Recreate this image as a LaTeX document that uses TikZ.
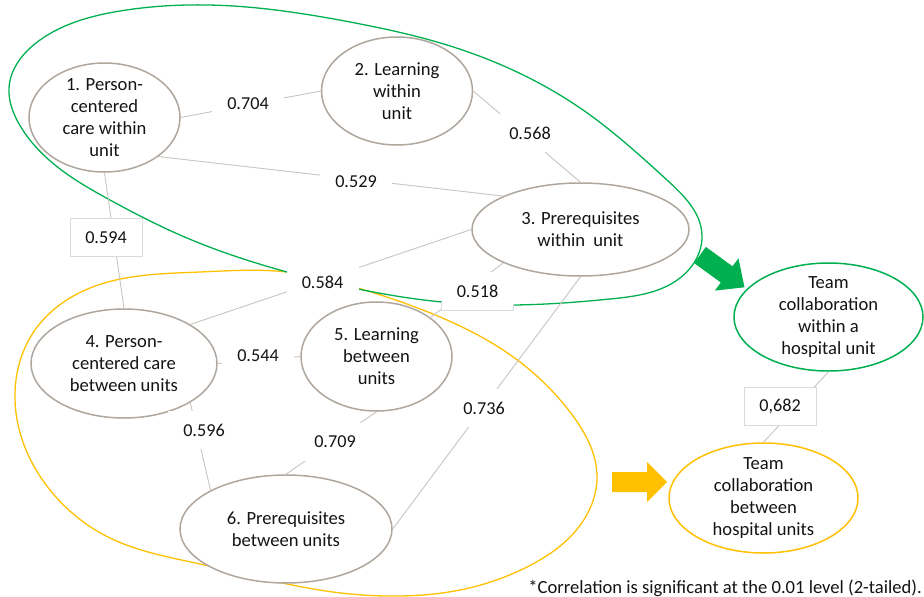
\documentclass[tikz,border=0pt]{standalone}
\usepackage{fontspec}
\setmainfont{Carlito}
\usetikzlibrary{shapes.geometric,hobby}
\definecolor{nodegray}{RGB}{175,166,157}
\definecolor{edgegray}{RGB}{200,196,192}
\definecolor{boxgray}{RGB}{218,218,218}
\definecolor{loopgreen}{RGB}{0,176,80}
\definecolor{loopyellow}{RGB}{255,192,0}
\definecolor{txt}{RGB}{20,20,20}
\begin{document}
\begin{tikzpicture}[x=1pt,y=-1pt,
  concept/.style={ellipse, draw=nodegray, line width=1.5pt, fill=white, inner sep=0pt},
  ctext/.style={align=center, inner sep=0pt, text=txt, font=\fontsize{18.6}{22}\selectfont},
  lbl/.style={rectangle, fill=white, inner sep=0pt, minimum width=72pt, minimum height=38pt, text=txt, font=\fontsize{18.2}{22}\selectfont},
  boxlbl/.style={lbl, draw=boxgray, line width=0.8pt},
  edge/.style={draw=edgegray, line width=0.9pt},
  loop/.style={line width=1.3pt}
]
\useasboundingbox (0,0) rectangle (924,597);

% grouping loops
\draw[loop, loopyellow, use Hobby shortcut, closed=true]
  (287,272) .. (358,288) .. (447,320) .. (520,362) .. (570,412)
  .. (597,477) .. (578,528) .. (527,567) .. (460,590)
  .. (400,596) .. (333,592) .. (200,564) .. (110,538) .. (50,490)
  .. (15,400) .. (35,330) .. (90,288) .. (200,272);
\draw[loop, loopgreen, use Hobby shortcut, closed=true]
  (9,88) .. (40,40) .. (120,11) .. (233,6) .. (350,22) .. (447,45)
  .. (583,110) .. (667,180) .. (702,235) .. (680,278) .. (610,299)
  .. (513,305) .. (442,302) .. (358,289) .. (287,272)
  .. (180,235) .. (110,200) .. (55,165) .. (18,122);

% concept nodes
\node[concept, minimum width=151pt, minimum height=109pt,
      label={[ctext]center:1. Person-\\centered\\care within\\unit}] (n1) at (104.5,117.5) {};
\node[concept, minimum width=151pt, minimum height=108pt,
      label={[ctext]center:2. Learning\\within\\unit}] (n2) at (397,91) {};
\node[concept, minimum width=217pt, minimum height=93pt,
      label={[ctext]center:3. Prerequisites\\within\ \ unit}] (n3) at (580.5,229.5) {};
\node[concept, minimum width=186pt, minimum height=109pt,
      label={[ctext]center:4. Person-\\centered care\\between units}] (n4) at (124,363.5) {};
\node[concept, minimum width=151pt, minimum height=109pt,
      label={[ctext]center:5. Learning\\between\\units}] (n5) at (376.5,356.5) {};
\node[concept, minimum width=212pt, minimum height=108pt,
      label={[ctext]center:6. Prerequisites\\between units}] (n6) at (286,529) {};
\node[concept, draw=loopgreen, minimum width=189pt, minimum height=108pt,
      label={[ctext]center:Team\\collaboration\\within a\\hospital unit}] (tw) at (828.5,317) {};
\node[concept, draw=loopyellow, minimum width=189pt, minimum height=110pt,
      label={[ctext]center:Team\\collaboration\\between\\hospital units}] (tb) at (763.5,498) {};

% correlation connectors
\draw[edge] (n1.east) -- (n2.west);
\draw[edge] (n2.east) -- (n3.north);
\draw[edge] (n1.south east) -- (n3.north west);
\draw[edge] (n1.south) -- (n4.north);
\draw[edge] (n3.west) -- (n4.north east);
\draw[edge] (n3.south west) -- (n5.north east);
\draw[edge] (n3.south) -- (n6.east);
\draw[edge] (n4.east) -- (n5.west);
\draw[edge] (n4.south east) -- (n6.north west);
\draw[edge] (n5.south) -- (n6.north);
\draw[edge] (tw.south) -- (tb.north);

% correlation labels
\node[lbl] (l704) at (248,104) {0.704};
\node[lbl] (l568) at (530,133) {0.568};
\node[lbl] (l529) at (356,182) {0.529};
\node[boxlbl] (l594) at (106,237.5) {0.594};
\node[lbl] (l584) at (322.5,282) {0.584};
\node[lbl] (l518) at (477.5,291) {0.518};
\draw[boxgray, line width=0.8pt] (l518.west |- 0,302) -- (l518.south west) -- (l518.south east) -- (l518.east |- 0,304);
\node[lbl] (l544) at (258,356) {0.544};
\node[lbl] (l596) at (204,430) {0.596};
\node[lbl] (l709) at (335,442) {0.709};
\node[lbl] (l736) at (484,408) {0.736};
\node[boxlbl] (l682) at (780,406) {0,682};

% block arrows
\fill[loopgreen, shift={(700,255)}, rotate=-36]
  (0,-10) -- (33,-10) -- (33,-20) -- (55,0) -- (33,20) -- (33,10) -- (0,10) -- cycle;
\fill[loopyellow]
  (612,472) -- (647,472) -- (647,462) -- (667,482) -- (647,502) -- (647,492) -- (612,492) -- cycle;

% footnote
\node[anchor=east, inner sep=0pt, text=txt, font=\fontsize{18.6}{22}\selectfont] (note) at (922,588)
  {*Correlation is significant at the 0.01 level (2-tailed).};
\end{tikzpicture}
\end{document}
